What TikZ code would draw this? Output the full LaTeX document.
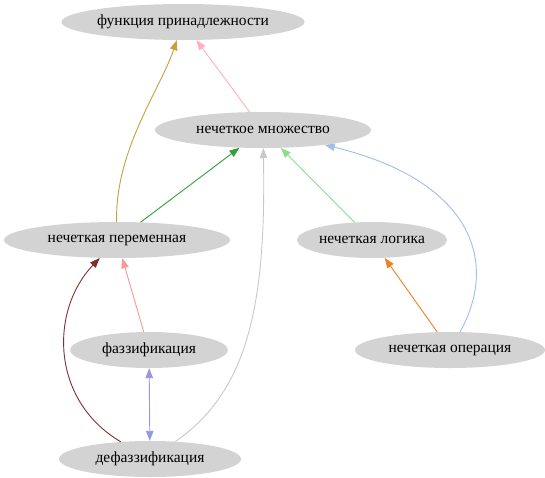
\documentclass[tikz,border=0pt]{standalone}
\usepackage{fontspec}
\setmainfont{Liberation Serif}
\usetikzlibrary{shapes.geometric,arrows.meta}
\definecolor{nodefill}{RGB}{211,211,211}
\definecolor{cgold}{RGB}{200,160,60}
\definecolor{cpink}{RGB}{255,176,192}
\definecolor{cgreen}{RGB}{50,160,60}
\definecolor{cgray}{RGB}{200,200,200}
\definecolor{clgreen}{RGB}{140,220,140}
\definecolor{clblue}{RGB}{160,190,232}
\definecolor{corange}{RGB}{240,128,32}
\definecolor{csalmon}{RGB}{255,150,150}
\definecolor{cdred}{RGB}{128,48,48}
\definecolor{cviolet}{RGB}{150,150,225}
\tikzset{
  concept/.style={ellipse, fill=nodefill, inner sep=0pt, minimum height=36pt, font=\fontsize{15.5}{17}\selectfont},
  link/.style={line width=0.9pt, -{Triangle[length=10pt,width=7.5pt]}},
}
\begin{document}
\begin{tikzpicture}[x=1pt,y=-1pt]
\useasboundingbox (0,0) rectangle (545,477);
\node[concept, minimum width=236pt] (func) at (183,22) {функция принадлежности};
\node[concept, minimum width=216pt] (set) at (263,130) {нечеткое множество};
\node[concept, minimum width=226pt] (var) at (117,240) {нечеткая переменная};
\node[concept, minimum width=150pt] (logic) at (372,240) {нечеткая логика};
\node[concept, minimum width=158pt] (fuzz) at (149,350) {фаззификация};
\node[concept, minimum width=190pt] (oper) at (450,350) {нечеткая операция};
\node[concept, minimum width=182pt] (defuzz) at (150,459) {дефаззификация};

\draw[link, cgold] (var) .. controls (115,150) and (160,90) .. (func);
\draw[link, cpink] (set) -- (func);
\draw[link, cgreen] (var) -- (set);
\draw[link, cgray] (defuzz) .. controls (250,390) and (266,300) .. (set);
\draw[link, clgreen] (logic) -- (set);
\draw[link, clblue] (oper) .. controls (500,260) and (470,180) .. (set);
\draw[link, corange] (oper) -- (logic);
\draw[link, csalmon] (fuzz) -- (var);
\draw[link, cdred] (defuzz) .. controls (50,400) and (50,310) .. (var);
\draw[link, cviolet, {Triangle[length=10pt,width=7.5pt]}-{Triangle[length=10pt,width=7.5pt]}] (fuzz) -- (defuzz);
\end{tikzpicture}
\end{document}
